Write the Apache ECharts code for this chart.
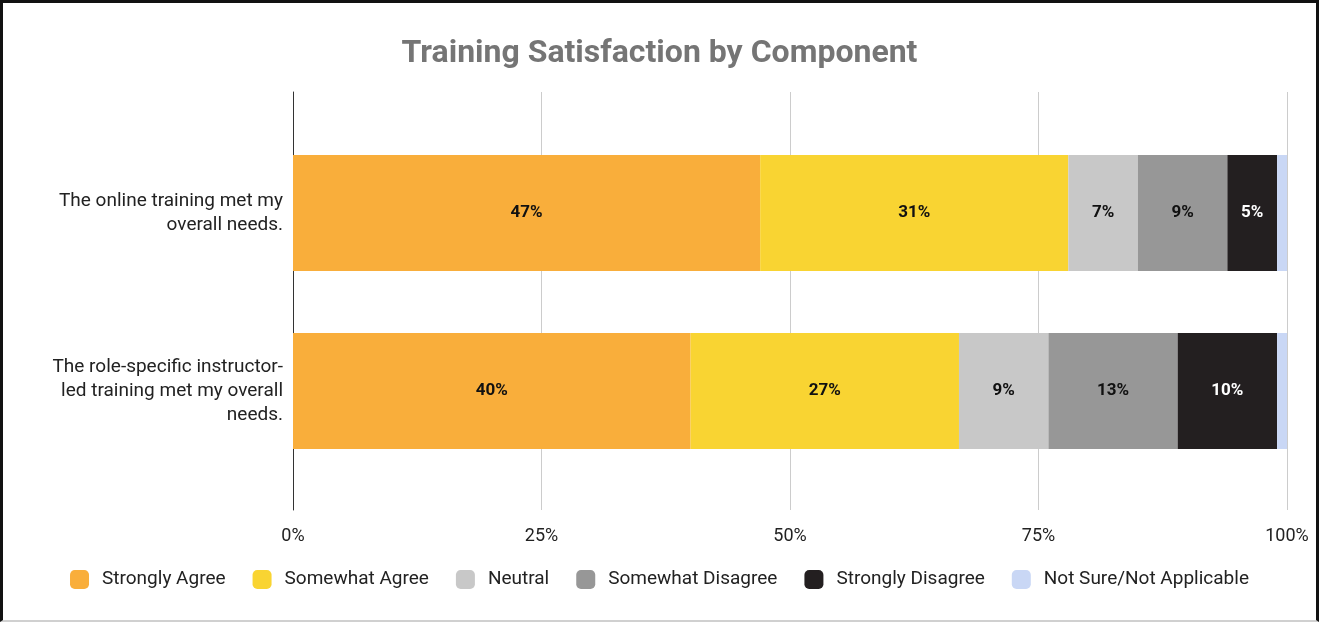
<!DOCTYPE html>
<html>
<head>
<meta charset="utf-8">
<script src="https://cdn.jsdelivr.net/npm/echarts@6/dist/echarts.min.js"></script>
<style>
  html, body { margin: 0; padding: 0; background: #fff; }
  #wrap { position: relative; width: 1319px; height: 622px; }
  #chart { width: 1319px; height: 622px; }
  #frame {
    position: absolute; left: 0; top: 0; width: 1319px; height: 622px;
    box-sizing: border-box; pointer-events: none;
    border-top: 3px solid #111; border-left: 3px solid #111;
    border-right: 3px solid #111; border-bottom: 2px solid #d0d0d0;
  }
</style>
</head>
<body>
<div id="wrap">
  <div id="chart"></div>
  <div id="frame"></div>
</div>
<script>
// categories (top to bottom)
const questions = [
  'The online training met my\noverall needs.',
  'The role-specific instructor-\nled training met my overall\nneeds.'
];
const responses = ['Strongly Agree', 'Somewhat Agree', 'Neutral', 'Somewhat Disagree', 'Strongly Disagree', 'Not Sure/Not Applicable'];
// percent per response, one entry per question
const stronglyAgree = [47, 40];
const somewhatAgree = [31, 27];
const neutral = [7, 9];
const somewhatDisagree = [9, 13];
const stronglyDisagree = [5, 10];
const notSure = [1, 1];
const xTicks = [0, 25, 50, 75, 100];

const values = [stronglyAgree, somewhatAgree, neutral, somewhatDisagree, stronglyDisagree, notSure];
const colors = ['#f9ae3b', '#f9d432', '#c8c8c8', '#979797', '#231f20', '#c9d7f5'];
const labelColors = ['#111', '#111', '#111', '#111', '#fff', '#111'];

const myChart = echarts.init(document.getElementById('chart'));

const series = responses.map((name, i) => ({
  name: name,
  type: 'bar',
  stack: 'total',
  xAxisIndex: 0,
  yAxisIndex: 0,
  barWidth: 116,
  data: values[i],
  itemStyle: { color: colors[i] },
  label: {
    show: true,
    position: 'inside',
    color: labelColors[i],
    fontFamily: 'Roboto',
    fontWeight: 'bold',
    fontSize: 17,
    formatter: p => (p.value >= 2 ? p.value + '%' : '')
  },
  emphasis: { disabled: true }
}));

const option = {
  animation: false,
  color: colors,
  textStyle: { fontFamily: 'Roboto' },
  title: {
    text: 'Training Satisfaction by Component',
    left: 'center',
    top: 33,
    textStyle: { fontFamily: 'Roboto', fontSize: 32, fontWeight: 'bold', color: '#757575' }
  },
  legend: {
    bottom: 28,
    left: 'center',
    itemWidth: 19,
    itemHeight: 19,
    itemGap: 27,
    icon: 'roundRect',
    data: responses,
    textStyle: { fontFamily: 'Roboto', fontSize: 19, color: '#222', padding: [0, 0, 0, 8] }
  },
  grid: [
    // bars
    { left: 293, right: 32, top: 124, bottom: 142 },
    // frame for gridlines and tick labels
    { left: 293, right: 32, top: 92, bottom: 112 }
  ],
  xAxis: [
    { gridIndex: 0, type: 'value', min: 0, max: 100, show: false },
    {
      gridIndex: 1, type: 'value', min: xTicks[0], max: xTicks[xTicks.length - 1], interval: 25,
      axisLine: { show: false },
      axisTick: { show: false },
      axisLabel: { formatter: '{value}%', fontFamily: 'Roboto', fontSize: 18, color: '#222', margin: 17 },
      splitLine: { lineStyle: { color: '#cccccc', width: 1 } }
    }
  ],
  yAxis: [
    {
      gridIndex: 0, type: 'category', inverse: true, data: questions,
      axisLine: { show: false },
      axisTick: { show: false },
      axisLabel: { fontFamily: 'Roboto', fontSize: 19, color: '#222', lineHeight: 24, margin: 10, align: 'right' }
    },
    {
      gridIndex: 1, type: 'value', min: 0, max: 1,
      axisLine: { show: true, lineStyle: { color: '#333', width: 1 } },
      axisTick: { show: false },
      axisLabel: { show: false },
      splitLine: { show: false }
    }
  ],
  series: series
};

myChart.setOption(option, true);
</script>
</body>
</html>
